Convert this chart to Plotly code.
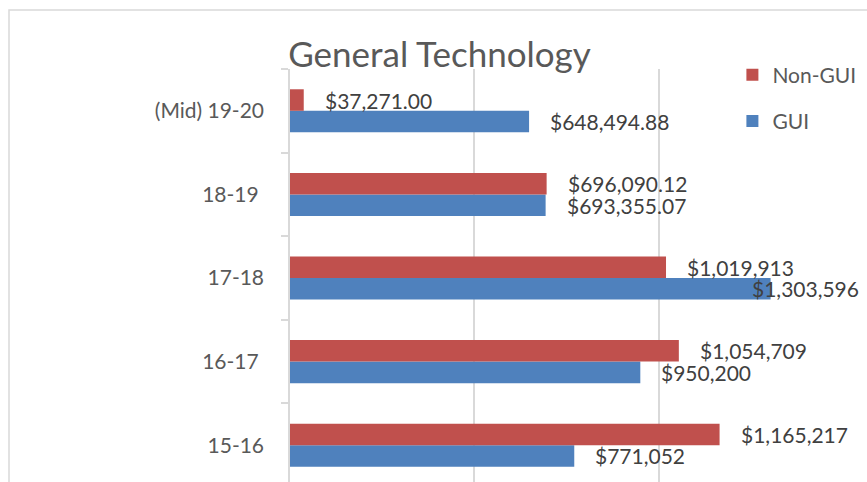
import plotly.graph_objects as go

categories = ["15-16", "16-17\u00a0", "17-18", "18-19\u00a0", "(Mid) 19-20"]
gui_values = [771052, 950200, 1303596, 693355.07, 648494.88]
nongui_values = [1165217, 1054709, 1019913, 696090.12, 37271.00]
gui_decimals = [0, 0, 0, 2, 2]
nongui_decimals = [0, 0, 0, 2, 2]
series_names = ["GUI", "Non-GUI"]
title_text = "General Technology"

RED = "#C0504D"
BLUE = "#4F81BD"
GRID = "#D9D9D9"
TXT = "#595959"
LBL = "#404040"
FONT = "Lato"
BARGAP = 0.485
XMAX = 1500000

fig = go.Figure()
fig.add_trace(go.Bar(y=categories, x=gui_values, orientation="h", name=series_names[0],
                     marker=dict(color=BLUE, line=dict(width=0)), legendgroup="g1", legendrank=2))
fig.add_trace(go.Bar(y=categories, x=nongui_values, orientation="h", name=series_names[1],
                     marker=dict(color=RED, line=dict(width=0)), legendgroup="g2", legendrank=1))

annotations = []
off = (1 - BARGAP) / 4
for series, decs, sign in ((gui_values, gui_decimals, -1), (nongui_values, nongui_decimals, 1)):
    for i, (v, d) in enumerate(zip(series, decs)):
        txt = f"${v:,.{d}f}"
        if v > 1.25e6:
            annotations.append(dict(x=1, xref="paper", y=i + sign * off, yref="y", text=txt,
                                    showarrow=False, xanchor="right", xshift=18,
                                    font=dict(family=FONT, size=21, color=LBL)))
        else:
            annotations.append(dict(x=v, xref="x", y=i + sign * off, yref="y", text=txt,
                                    showarrow=False, xanchor="left", xshift=19,
                                    font=dict(family=FONT, size=21, color=LBL)))

fig.update_layout(
    width=867, height=482,
    margin=dict(l=290, r=24, t=69, b=0),
    paper_bgcolor="white", plot_bgcolor="white",
    barmode="group", bargap=BARGAP, bargroupgap=0,
    title=dict(text=title_text, x=0.507, xanchor="center", y=1 - 55 / 482, yanchor="middle",
               font=dict(family=FONT, size=35, color=TXT)),
    xaxis=dict(range=[0, XMAX], dtick=500000, showgrid=True, gridcolor=GRID, gridwidth=1.5,
               zeroline=False, showticklabels=False, showline=False, fixedrange=True),
    yaxis=dict(type="category", range=[-0.44, 4.5], showline=True, linecolor=GRID, linewidth=1.5,
               ticks="outside", tickson="boundaries", ticklen=7, tickcolor=GRID, tickwidth=1.5,
               showgrid=False, tickfont=dict(family=FONT, size=21, color=TXT),
               ticklabelstandoff=20),
    legend=dict(x=0.80, y=1.035, xanchor="left", yanchor="top", traceorder="grouped",
                tracegroupgap=16, bgcolor="rgba(0,0,0,0)",
                font=dict(family=FONT, size=21, color=TXT)),
    annotations=annotations,
    shapes=[dict(type="rect", xref="paper", yref="paper", x0=(9 - 290) / 553, x1=2,
                 y0=-1, y1=1 + (69 - 10) / 413, line=dict(color=GRID, width=1.5),
                 fillcolor="rgba(0,0,0,0)", layer="below")],
)

fig.write_html("out.html", config={"displayModeBar": False},
               post_script="document.body.style.margin='0';")
